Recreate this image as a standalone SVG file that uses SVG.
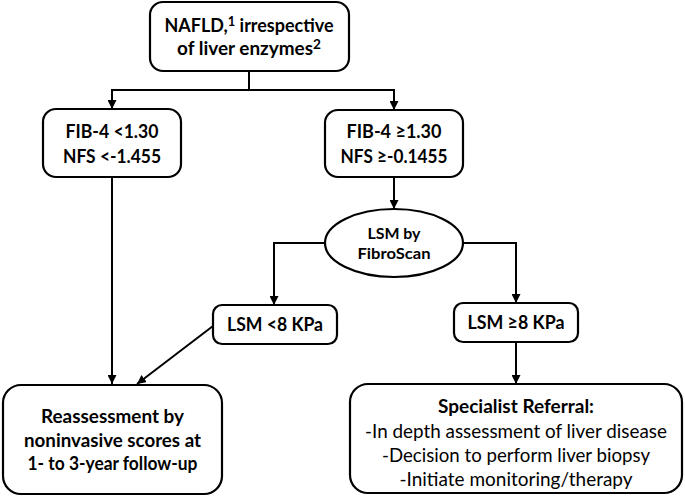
<svg xmlns="http://www.w3.org/2000/svg" width="685" height="497" viewBox="0 0 685 497">
<defs>
<style>
.box{fill:#fff;stroke:#000;stroke-width:2.2}
.t{font-family:Lato,"Open Sans","Liberation Sans",sans-serif;font-size:18px;font-weight:bold;fill:#000;text-anchor:middle}
.r{font-weight:normal;font-size:19px}
.s{font-size:16px}
.c{fill:none;stroke:#000;stroke-width:2}
</style>
<marker id="ah" viewBox="0 0 10 10" refX="10" refY="5" markerWidth="9" markerHeight="9" markerUnits="userSpaceOnUse" orient="auto">
<path d="M0,0 L10,5 L0,10 z" fill="#000"/>
</marker>
</defs>
<rect width="685" height="497" fill="#fff"/>
<g id="connectors">
<line class="c" x1="249" y1="71" x2="249" y2="90"/>
<line class="c" x1="111" y1="90" x2="395" y2="90"/>
<line class="c" x1="112" y1="89" x2="112" y2="109" marker-end="url(#ah)"/>
<line class="c" x1="394" y1="89" x2="394" y2="110" marker-end="url(#ah)"/>
<line class="c" x1="112" y1="177" x2="112" y2="384" marker-end="url(#ah)"/>
<line class="c" x1="394" y1="177" x2="394" y2="209" marker-end="url(#ah)"/>
<path class="c" d="M325,243 H274 V305" marker-end="url(#ah)"/>
<path class="c" d="M463,243 H516 V303" marker-end="url(#ah)"/>
<line class="c" x1="213" y1="326" x2="137" y2="384" marker-end="url(#ah)"/>
<line class="c" x1="516" y1="342" x2="516" y2="384" marker-end="url(#ah)"/>
</g>
<g id="n-nafld">
<rect class="box" x="150" y="2" width="199" height="69" rx="13"/>
<text class="t" x="249" y="32" textLength="169" lengthAdjust="spacingAndGlyphs">NAFLD,<tspan font-size="13" dy="-6">1</tspan><tspan dy="6"> irrespective</tspan></text>
<text class="t" x="249" y="55" textLength="144" lengthAdjust="spacingAndGlyphs">of liver enzymes<tspan font-size="13" dy="-6">2</tspan></text>
</g>
<g id="n-fib-low">
<rect class="box" x="43" y="109" width="138" height="68" rx="13"/>
<text class="t" x="112" y="138" textLength="93" lengthAdjust="spacingAndGlyphs">FIB-4 &lt;1.30</text>
<text class="t" x="112" y="163" textLength="98" lengthAdjust="spacingAndGlyphs">NFS &lt;-1.455</text>
</g>
<g id="n-fib-high">
<rect class="box" x="325" y="110" width="138" height="67" rx="13"/>
<text class="t" x="394" y="138" textLength="95" lengthAdjust="spacingAndGlyphs">FIB-4 ≥1.30</text>
<text class="t" x="394" y="163" textLength="107" lengthAdjust="spacingAndGlyphs">NFS ≥-0.1455</text>
</g>
<g id="n-lsm">
<ellipse class="box" cx="394" cy="243" rx="69" ry="34"/>
<text class="t s" x="394" y="239" textLength="53" lengthAdjust="spacingAndGlyphs">LSM by</text>
<text class="t s" x="394" y="259" textLength="73" lengthAdjust="spacingAndGlyphs">FibroScan</text>
</g>
<g id="n-lsm-low">
<rect class="box" x="213" y="305" width="124" height="39" rx="9"/>
<text class="t" x="275" y="331" textLength="96" lengthAdjust="spacingAndGlyphs">LSM &lt;8 KPa</text>
</g>
<g id="n-lsm-high">
<rect class="box" x="454" y="303" width="124" height="39" rx="9"/>
<text class="t" x="516" y="329" textLength="97" lengthAdjust="spacingAndGlyphs">LSM ≥8 KPa</text>
</g>
<g id="n-reassess">
<rect class="box" x="3" y="385" width="219" height="109" rx="18"/>
<text class="t" x="112.5" y="423" textLength="143" lengthAdjust="spacingAndGlyphs">Reassessment by</text>
<text class="t" x="112.5" y="447" textLength="177" lengthAdjust="spacingAndGlyphs">noninvasive scores at</text>
<text class="t" x="112.5" y="470" textLength="170" lengthAdjust="spacingAndGlyphs">1- to 3-year follow-up</text>
</g>
<g id="n-specialist">
<rect class="box" x="350" y="384" width="332" height="109" rx="18"/>
<text class="t" x="516" y="413" textLength="156" lengthAdjust="spacingAndGlyphs">Specialist Referral:</text>
<text class="t r" x="516" y="438" textLength="302" lengthAdjust="spacingAndGlyphs">-In depth assessment of liver disease</text>
<text class="t r" x="516" y="462" textLength="268" lengthAdjust="spacingAndGlyphs">-Decision to perform liver biopsy</text>
<text class="t r" x="516" y="486" textLength="233" lengthAdjust="spacingAndGlyphs">-Initiate monitoring/therapy</text>
</g>
</svg>
